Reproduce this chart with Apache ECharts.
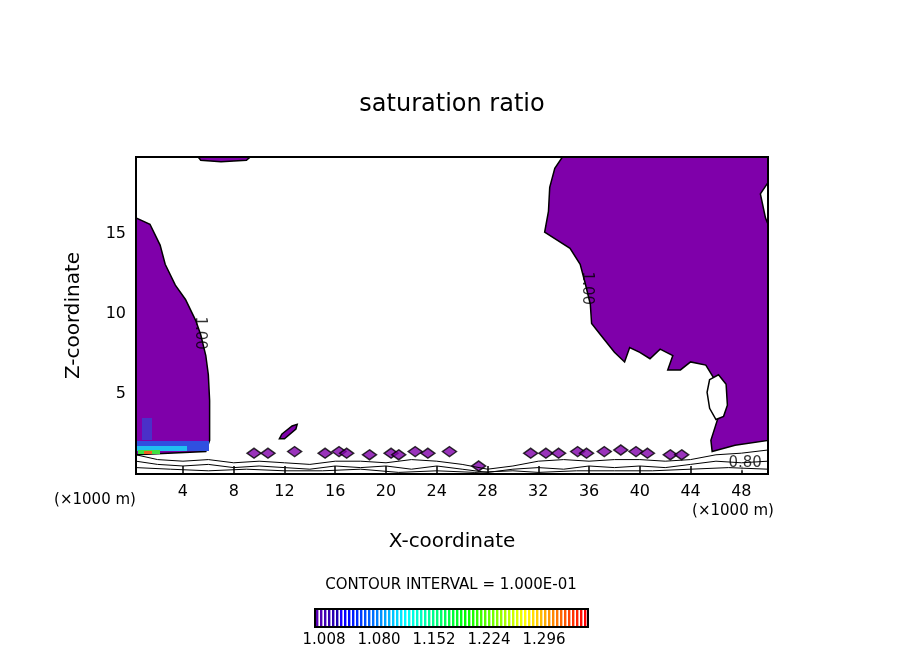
<!DOCTYPE html>
<html>
<head>
<meta charset="UTF-8">
<script src="https://cdn.jsdelivr.net/npm/echarts@6/dist/echarts.min.js"></script>
<style>
*{margin:0;padding:0}
#main{width:904px;height:654px;background:#fff}
</style>
</head>
<body>
<div id="main"></div>
<script>
// values, x in km, z in km
var xTicks = [4, 8, 12, 16, 20, 24, 28, 32, 36, 40, 44, 48];
var zTicks = [5, 10, 15];
var leftRegion = [[0.3,16.0],[1.4,15.6],[2.2,14.3],[2.6,13.1],[3.4,11.8],[4.2,10.9],[5.0,9.6],[5.4,8.7],[5.8,7.4],[6.0,6.2],[6.1,4.6],[6.1,2.1],[5.8,1.4],[0.3,1.2]];
var rightRegion = [[33.9,19.8],[50.1,19.8],[50.1,18.2],[49.5,17.5],[49.9,16.0],[50.1,15.6],[50.1,2.1],[47.5,1.8],[45.7,1.4],[45.6,2.1],[46.2,3.6],[46.5,4.7],[45.9,5.9],[45.2,6.8],[44.0,7.0],[43.2,6.5],[42.2,6.5],[42.6,7.4],[41.6,7.8],[40.8,7.2],[40.0,7.6],[39.2,7.9],[38.8,7.0],[38.0,7.6],[36.9,8.7],[36.2,9.4],[36.1,10.6],[35.7,11.9],[35.3,13.1],[34.5,14.1],[33.3,14.7],[32.5,15.1],[32.8,16.4],[32.9,17.9],[33.3,19.1]];
var holeRegion = [[45.5,5.9],[46.2,6.2],[46.8,5.6],[46.9,4.3],[46.6,3.6],[46.0,3.4],[45.5,4.1],[45.3,5.1]];
var topBlob = [[5.2,19.8],[9.3,19.8],[9.0,19.6],[7.0,19.5],[5.4,19.6]];
var slantBlob = [[11.8,2.5],[12.6,3.0],[13.0,3.1],[12.9,2.8],[12.0,2.2],[11.6,2.2]];
var smallBlobs = [[9.6,1.3],[10.7,1.3],[12.8,1.4],[15.2,1.3],[16.3,1.4],[16.9,1.3],[18.7,1.2],[20.4,1.3],[21.0,1.2],[22.3,1.4],[23.3,1.3],[25.0,1.4],[27.3,0.5],[31.4,1.3],[32.6,1.3],[33.6,1.3],[35.1,1.4],[35.8,1.3],[37.2,1.4],[38.5,1.5],[39.7,1.4],[40.6,1.3],[42.4,1.2],[43.3,1.2]];
var contour1 = [[0.3,1.2],[2,0.9],[4,0.8],[6,0.9],[8,0.7],[10,0.8],[12,0.7],[14,0.6],[16,0.8],[18,0.8],[20,0.7],[22,0.9],[24,0.8],[26,0.6],[28,0.3],[30,0.5],[32,0.8],[34,0.9],[36,0.8],[38,0.9],[40,0.9],[42,0.8],[44,0.9],[46,1.2],[48,1.3],[50.1,1.5]];
var contour2 = [[0.3,0.8],[2,0.6],[4,0.5],[6,0.6],[8,0.4],[10,0.5],[12,0.4],[14,0.3],[16,0.5],[18,0.4],[20,0.5],[22,0.3],[24,0.5],[26,0.3],[28,0.1],[30,0.3],[32,0.4],[34,0.3],[36,0.5],[38,0.4],[40,0.5],[42,0.4],[44,0.6],[46,0.8],[48,0.7],[50.1,0.8]];
var contour3 = [[0.3,0.4],[3,0.3],[6,0.2],[9,0.3],[12,0.2],[15,0.2],[18,0.3],[21,0.1],[24,0.2],[27,0.1],[30,0.2],[32,0.1],[35,0.2],[38,0.2],[41,0.2],[44,0.3],[47,0.4],[50.1,0.3]];
var cbarLabels = ['1.008', '1.080', '1.152', '1.224', '1.296'];
var lineLabels = [[5.3, 8.8, '1.00'], [35.8, 11.6, '1.00']];
var boxLabels = [[48.3, 0.7, '0.80']];

var PURPLE = '#7f00aa';
function polySeries(pts, fill, border) {
  return {
    type: 'custom', coordinateSystem: 'cartesian2d', data: [0], silent: true,
    renderItem: function (params, api) {
      return { type: 'polygon', shape: { points: pts.map(function (p) { return api.coord(p); }) },
        style: { fill: fill, stroke: border, lineWidth: 1.5 } };
    }
  };
}
function lineSeries(pts) {
  return { type: 'line', data: pts, symbol: 'none', silent: true,
    lineStyle: { color: '#000', width: 1 } };
}

// colour bar stripes
var cbarColors = [];
for (var i = 0; i < 68; i++) {
  var h = 270 - i * 270 / 67;
  cbarColors.push('hsl(' + h + ',100%,' + (i < 6 ? 35 : 50) + '%)');
}
var graphics = [];
var cx0 = 316, cw = 272 / cbarColors.length;
cbarColors.forEach(function (c, i) {
  graphics.push({ type: 'rect', shape: { x: cx0 + i * cw, y: 609, width: cw * 0.6, height: 18 }, style: { fill: c } });
});
graphics.push({ type: 'rect', shape: { x: 315, y: 609, width: 273, height: 18 }, style: { fill: 'none', stroke: '#000', lineWidth: 2 } });
cbarLabels.forEach(function (t, i) {
  graphics.push({ type: 'text', x: 324 + i * 55, y: 640, style: { text: t, font: '15px "DejaVu Sans"', fill: '#000', align: 'center', verticalAlign: 'middle' } });
});
graphics.push({ type: 'text', x: 451, y: 585, style: { text: 'CONTOUR INTERVAL = 1.000E-01', font: '15px "DejaVu Sans"', fill: '#000', align: 'center', verticalAlign: 'middle' } });
graphics.push({ type: 'text', x: 95, y: 500, style: { text: '(×1000 m)', font: '15px "DejaVu Sans"', fill: '#000', align: 'center', verticalAlign: 'middle' } });
graphics.push({ type: 'text', x: 733, y: 511, style: { text: '(×1000 m)', font: '15px "DejaVu Sans"', fill: '#000', align: 'center', verticalAlign: 'middle' } });
// bottom-left coloured bands
graphics.push({ type: 'rect', z: 50, shape: { x: 137, y: 441, width: 72, height: 10 }, style: { fill: '#3050e0' } });
graphics.push({ type: 'rect', z: 51, shape: { x: 137, y: 446, width: 50, height: 5 }, style: { fill: '#20c0f0' } });
graphics.push({ type: 'rect', z: 52, shape: { x: 138, y: 450, width: 22, height: 4 }, style: { fill: '#40e040' } });
graphics.push({ type: 'rect', z: 53, shape: { x: 144, y: 451, width: 8, height: 3 }, style: { fill: '#f06020' } });
graphics.push({ type: 'rect', z: 50, shape: { x: 142, y: 418, width: 10, height: 22 }, style: { fill: '#4a30c8' } });
graphics.push({ type: 'rect', z: 100, shape: { x: 136, y: 157, width: 632, height: 317 }, style: { fill: 'none', stroke: '#000', lineWidth: 2 } });

var labelFmt = function (p) { return p.value[2]; };
var series = [
  polySeries(leftRegion, PURPLE, '#000'),
  polySeries(rightRegion, PURPLE, '#000'),
  polySeries(holeRegion, '#fff', '#000'),
  polySeries(topBlob, PURPLE, '#000'),
  polySeries(slantBlob, PURPLE, '#000'),
  { type: 'scatter', data: smallBlobs, symbol: 'diamond', symbolSize: [14, 10], silent: true,
    itemStyle: { color: PURPLE, borderColor: '#000', borderWidth: 1.5 } },
  lineSeries(contour1), lineSeries(contour2), lineSeries(contour3),
  { type: 'scatter', data: lineLabels, symbolSize: 0, silent: true,
    label: { show: true, position: 'inside', formatter: labelFmt,
      fontSize: 15, fontFamily: 'DejaVu Sans', color: '#000', rotate: -90 } },
  { type: 'scatter', data: boxLabels, symbolSize: 0, silent: true,
    label: { show: true, position: 'inside', formatter: labelFmt,
      fontSize: 15, fontFamily: 'DejaVu Sans', color: '#000', backgroundColor: '#fff' } }
];

var chart = echarts.init(document.getElementById('main'));
chart.setOption({
  animation: false,
  backgroundColor: '#fff',
  title: { text: 'saturation ratio', left: 'center', top: 88,
    textStyle: { fontSize: 24, fontWeight: 'normal', fontFamily: 'DejaVu Sans', color: '#000' } },
  grid: { left: 136, right: 136, top: 157, bottom: 180 },
  xAxis: {
    type: 'value', min: 0.3, max: 50.1,
    name: 'X-coordinate', nameLocation: 'middle', nameGap: 58,
    nameTextStyle: { fontSize: 20, fontFamily: 'DejaVu Sans', color: '#000' },
    axisLine: { onZero: false, lineStyle: { color: '#000', width: 2 } },
    axisTick: { inside: true, length: 8, customValues: xTicks, lineStyle: { color: '#000', width: 1.5 } },
    axisLabel: { customValues: xTicks, margin: 10, fontSize: 16, fontFamily: 'DejaVu Sans', color: '#000' },
    splitLine: { show: false }
  },
  yAxis: {
    type: 'value', min: 0, max: 19.8,
    name: 'Z-coordinate', nameLocation: 'middle', nameGap: 52,
    nameTextStyle: { fontSize: 20, fontFamily: 'DejaVu Sans', color: '#000' },
    axisLine: { lineStyle: { color: '#000', width: 2 } },
    axisTick: { inside: true, length: 8, customValues: zTicks, lineStyle: { color: '#000', width: 1.5 } },
    axisLabel: { customValues: zTicks, margin: 10, fontSize: 16, fontFamily: 'DejaVu Sans', color: '#000' },
    splitLine: { show: false }
  },
  graphic: graphics,
  series: series
});
</script>
</body>
</html>
